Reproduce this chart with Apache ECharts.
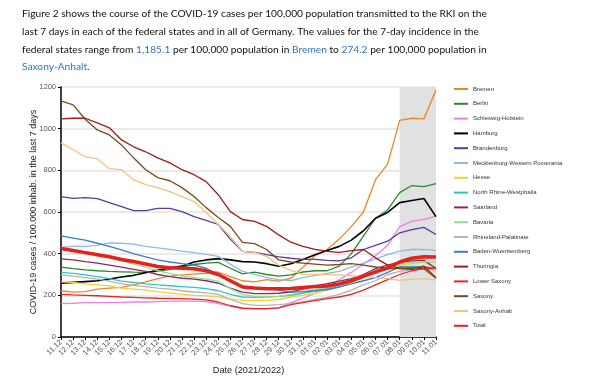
<!DOCTYPE html>
<html>
<head>
<meta charset="utf-8">
<script src="https://cdn.jsdelivr.net/npm/echarts@6/dist/echarts.min.js"></script>
<style>
html,body{margin:0;padding:0;background:#fff;}
#c{width:600px;height:380px;}
</style>
</head>
<body>
<div id="c"></div>
<script>
const dates = ['11.12','12.12','13.12','14.12','15.12','16.12','17.12','18.12','19.12','20.12','21.12','22.12','23.12','24.12','25.12','26.12','27.12','28.12','29.12','30.12','31.12','01.01','02.01','03.01','04.01','05.01','06.01','07.01','08.01','09.01','10.01','11.01'];
const yTicks = [0, 200, 400, 600, 800, 1000, 1200];

const bremen = [222,215,218,230,235,238,250,265,280,292,298,302,306,312,290,270,265,275,268,282,335,390,420,470,530,600,755,830,1040,1050,1047,1185];
const berlin = [335,328,322,318,315,313,311,310,315,325,335,348,355,358,330,303,311,300,292,298,312,318,318,340,400,484,570,610,693,727,722,736];
const schleswigHolstein = [160,162,165,165,165,166,168,168,170,172,172,172,170,160,150,138,135,135,140,165,185,210,240,275,310,350,390,440,530,555,565,580];
const hamburg = [258,262,266,270,278,288,296,308,320,332,340,360,370,376,370,362,360,352,340,352,372,395,415,435,465,510,570,598,645,655,665,578];
const brandenburg = [674,665,669,664,645,626,607,607,617,617,602,578,560,540,470,411,406,395,385,378,373,373,368,365,380,420,440,460,500,515,526,492];
const mecklenburg = [430,435,435,440,452,450,446,435,428,421,412,405,397,387,350,315,301,285,275,270,285,295,305,315,335,355,375,395,412,420,421,416];
const hesse = [265,262,255,250,245,235,230,225,218,212,205,200,197,192,183,176,176,176,180,192,200,210,224,240,262,285,312,330,344,352,360,328];
const nrw = [310,305,298,290,280,268,262,255,250,246,242,238,232,222,205,192,190,192,195,200,210,220,232,248,265,285,310,325,335,336,338,328];
const saarland = [375,370,362,355,345,335,325,315,300,290,282,278,270,258,235,215,208,208,210,216,230,245,256,268,280,300,328,345,360,365,368,330];
const bavaria = [425,418,410,400,385,365,350,335,318,305,292,285,278,268,232,205,195,192,195,205,215,228,240,255,275,295,320,338,352,358,362,360];
const rhinelandPalatinate = [298,292,285,278,268,255,248,242,235,230,222,216,212,205,180,160,152,152,155,160,170,180,190,205,225,250,270,300,315,325,328,320];
const badenWuerttemberg = [485,475,465,450,435,418,400,385,370,360,352,345,330,300,270,245,232,232,225,215,218,222,228,240,255,270,285,310,336,336,336,328];
const thuringia = [1047,1050,1050,1028,1004,946,913,889,860,836,803,779,746,683,602,564,555,531,490,455,435,421,411,406,415,420,380,345,330,325,340,285];
const lowerSaxony = [205,202,200,198,195,192,190,188,186,185,184,182,178,168,150,138,136,136,140,155,165,175,184,192,205,225,250,275,300,318,328,330];
const saxony = [1133,1114,1045,994,970,922,860,803,765,750,717,674,621,574,531,454,448,420,370,360,355,350,345,348,352,345,336,330,328,330,328,282];
const saxonyAnhalt = [932,899,865,856,808,803,755,731,717,698,674,650,598,540,483,411,406,387,345,320,301,300,300,298,295,290,285,280,272,278,280,274];
const total = [425,415,405,395,385,372,362,350,338,332,330,328,318,300,270,240,235,232,232,233,238,242,245,255,270,292,312,332,360,378,385,384];

const seriesDefs = [
  ['Bremen', bremen, '#e8882a', 1.3],
  ['Berlin', berlin, '#2b8a2b', 1.3],
  ['Schleswig-Holstein', schleswigHolstein, '#ea80ea', 1.3],
  ['Hamburg', hamburg, '#000000', 1.6],
  ['Brandenburg', brandenburg, '#5a3c98', 1.3],
  ['Mecklenburg-Western Pomerania', mecklenburg, '#8cbce6', 1.3],
  ['Hesse', hesse, '#f2d230', 1.3],
  ['North Rhine-Westphalia', nrw, '#30c4c4', 1.3],
  ['Saarland', saarland, '#8c2a5c', 1.3],
  ['Bavaria', bavaria, '#90de90', 1.3],
  ['Rhineland-Palatinate', rhinelandPalatinate, '#b4b4b4', 1.3],
  ['Baden-Wuerttemberg', badenWuerttemberg, '#3a7ec4', 1.3],
  ['Thuringia', thuringia, '#9a1c1c', 1.3],
  ['Lower Saxony', lowerSaxony, '#e02828', 1.3],
  ['Saxony', saxony, '#7a4a1c', 1.3],
  ['Saxony-Anhalt', saxonyAnhalt, '#f2c27e', 1.3],
  ['Total', total, '#e8201a', 3.5]
];

const chart = echarts.init(document.getElementById('c'), null, {renderer: 'canvas'});

const series = [{
  name: '_shade', type: 'line', data: [], silent: true, z: 0,
  markArea: {silent: true, itemStyle: {color: '#e1e1e1'}, data: [[{xAxis: '08.01'}, {xAxis: '11.01'}]]}
}];
seriesDefs.forEach(function (d) {
  series.push({
    name: d[0], type: 'line', data: d[1], symbol: 'none', smooth: false,
    lineStyle: {color: d[2], width: d[3]}, itemStyle: {color: d[2]},
    z: d[0] === 'Total' ? 5 : 3, emphasis: {disabled: true}
  });
});

const blue = '#2e75b6';
chart.setOption({
  animation: false,
  title: {
    left: 17, top: 0,
    text: 'Figure 2 shows the course of the COVID-19 cases per 100,000 population transmitted to the RKI on the\n' +
          'last 7 days in each of the federal states and in all of Germany. The values for the 7-day incidence in the\n' +
          'federal states range from {b|1,185.1} per 100,000 population in {b|Bremen} to {b|274.2} per 100,000 population in\n' +
          '{b|Saxony-Anhalt}.',
    textStyle: {
      fontFamily: 'Lato', fontSize: 10.2, fontWeight: 'normal', color: '#111', lineHeight: 17.7,
      rich: {b: {color: blue, fontFamily: 'Lato', fontSize: 10.2, lineHeight: 17.7}}
    }
  },
  legend: {
    orient: 'vertical', left: 448, top: 80,
    data: seriesDefs.map(function (d) { return d[0]; }),
    itemWidth: 14, itemHeight: 10, itemGap: 6.8,
    itemStyle: {opacity: 0},
    textStyle: {fontFamily: 'Liberation Sans', fontSize: 6, color: '#333'},
    selectedMode: false
  },
  grid: {left: 61, right: 164, top: 87, bottom: 42, containLabel: false},
  xAxis: {
    type: 'category', data: dates, boundaryGap: false,
    name: 'Date (2021/2022)', nameLocation: 'middle', nameGap: 29, nameMoveOverlap: false,
    nameTextStyle: {fontFamily: 'Liberation Sans', fontSize: 9.2, color: '#222'},
    axisLine: {lineStyle: {color: '#000', width: 1.5}},
    axisTick: {show: true, lineStyle: {color: '#000'}, length: 3, alignWithLabel: true},
    axisLabel: {rotate: 45, interval: 0, fontFamily: 'Liberation Sans', fontSize: 7.5, color: '#555', margin: 4},
    splitLine: {show: false}
  },
  yAxis: {
    type: 'value', min: yTicks[0], max: yTicks[yTicks.length - 1], interval: 200,
    name: 'COVID-19 cases / 100.000 inhab. in the last 7 days', nameLocation: 'middle', nameGap: 23, nameMoveOverlap: false,
    nameTextStyle: {fontFamily: 'Liberation Sans', fontSize: 9, color: '#222'},
    axisLine: {show: true, lineStyle: {color: '#000', width: 1.5}},
    axisTick: {show: true, length: 3, lineStyle: {color: '#000'}},
    axisLabel: {fontFamily: 'Liberation Sans', fontSize: 7.5, color: '#555', margin: 5,
      formatter: function (v) { return String(v); }},
    splitLine: {show: true, lineStyle: {color: '#e4e4e4', width: 1.5}}
  },
  series: series
});
</script>
</body>
</html>
